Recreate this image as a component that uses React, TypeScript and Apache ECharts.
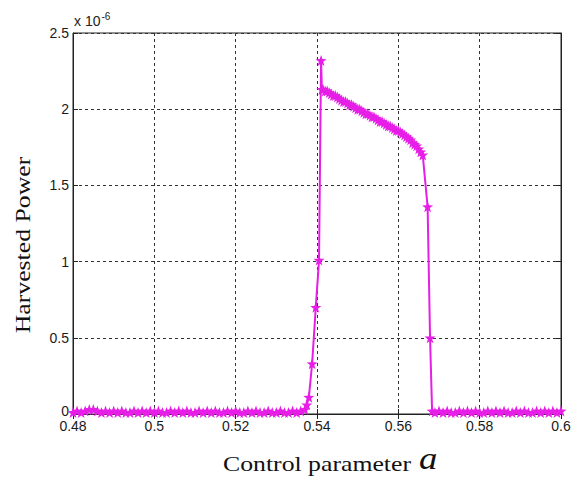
import React, { useEffect, useRef } from "react";
import * as echarts from "echarts";

const xTicks = [0.48, 0.5, 0.52, 0.54, 0.56, 0.58, 0.6];
const yTicks = [0, 0.5, 1, 1.5, 2, 2.5];

// Harvested power (x 10^-6) vs control parameter a
const baseLeft: [number, number][] = [
  [0.48, 0.01], [0.481, 0.02], [0.482, 0.01], [0.483, 0.02], [0.484, 0.03], [0.485, 0.03],
  [0.486, 0.02], [0.487, 0.01], [0.488, 0.02], [0.489, 0.01], [0.49, 0.02], [0.491, 0.01],
  [0.492, 0.02], [0.493, 0.01], [0.494, 0.01], [0.495, 0.02], [0.496, 0.01], [0.497, 0.02],
  [0.498, 0.01], [0.499, 0.02], [0.5, 0.01], [0.501, 0.02], [0.502, 0.01], [0.503, 0.01],
  [0.504, 0.02], [0.505, 0.01], [0.506, 0.02], [0.507, 0.01], [0.508, 0.02], [0.509, 0.01],
  [0.51, 0.01], [0.511, 0.02], [0.512, 0.01], [0.513, 0.02], [0.514, 0.01], [0.515, 0.02],
  [0.516, 0.01], [0.517, 0.01], [0.518, 0.02], [0.519, 0.01], [0.52, 0.02], [0.521, 0.01],
  [0.522, 0.01], [0.523, 0.02], [0.524, 0.01], [0.525, 0.02], [0.526, 0.01], [0.527, 0.01],
  [0.528, 0.02], [0.529, 0.01], [0.53, 0.01], [0.531, 0.02], [0.532, 0.01], [0.533, 0.01],
  [0.534, 0.02], [0.535, 0.01], [0.536, 0.02],
];
const rise: [number, number][] = [
  [0.537, 0.03], [0.5375, 0.06], [0.538, 0.11], [0.5388, 0.33], [0.5397, 0.7],
  [0.5405, 1.01], [0.541, 2.32], [0.5412, 2.13],
];
const plateau: [number, number][] = [
  [0.5415, 2.13], [0.542, 2.12], [0.5425, 2.12], [0.543, 2.11], [0.5435, 2.1], [0.544, 2.09],
  [0.5445, 2.09], [0.545, 2.08], [0.5455, 2.07], [0.546, 2.06], [0.5465, 2.05], [0.547, 2.05],
  [0.5475, 2.04], [0.548, 2.03], [0.5485, 2.03], [0.549, 2.02], [0.5495, 2.01], [0.55, 2.0],
  [0.5505, 2.0], [0.551, 1.99], [0.5515, 1.98], [0.552, 1.97], [0.5525, 1.97], [0.553, 1.96],
  [0.5535, 1.95], [0.554, 1.95], [0.5545, 1.94], [0.555, 1.93], [0.5555, 1.92], [0.556, 1.92],
  [0.5565, 1.91], [0.557, 1.9], [0.5575, 1.89], [0.558, 1.89], [0.5585, 1.88], [0.559, 1.87],
  [0.5595, 1.86], [0.56, 1.86], [0.5605, 1.85], [0.561, 1.84], [0.5615, 1.83], [0.562, 1.82],
  [0.5625, 1.81], [0.563, 1.8], [0.5635, 1.78], [0.564, 1.77], [0.5645, 1.76], [0.565, 1.74],
  [0.5655, 1.72], [0.566, 1.7],
];
const drop: [number, number][] = [
  [0.5672, 1.36], [0.5678, 0.5], [0.5683, 0.02],
];
const baseRight: [number, number][] = [
  [0.569, 0.01], [0.57, 0.02], [0.571, 0.01], [0.572, 0.02], [0.573, 0.01], [0.574, 0.01],
  [0.575, 0.02], [0.576, 0.01], [0.577, 0.02], [0.578, 0.01], [0.579, 0.02], [0.58, 0.01],
  [0.581, 0.01], [0.582, 0.02], [0.583, 0.01], [0.584, 0.02], [0.585, 0.01], [0.586, 0.02],
  [0.587, 0.01], [0.588, 0.01], [0.589, 0.02], [0.59, 0.01], [0.591, 0.02], [0.592, 0.01],
  [0.593, 0.01], [0.594, 0.02], [0.595, 0.01], [0.596, 0.02], [0.597, 0.01], [0.598, 0.02],
  [0.599, 0.01], [0.6, 0.02],
];

const STAR =
  "path://M0,-10 L2.35,-3.24 L9.51,-3.09 L3.8,1.24 L5.88,8.09 L0,4 L-5.88,8.09 L-3.8,1.24 L-9.51,-3.09 L-2.35,-3.24 Z";
const MAGENTA = "#e61ee6";

export default function App() {
  const ref = useRef<HTMLDivElement>(null);
  useEffect(() => {
    if (!ref.current) return;
    const chart = echarts.init(ref.current, null, { renderer: "svg" });
    const data = [...baseLeft, ...rise, ...plateau, ...drop, ...baseRight];
    const fmtX = (v: number) => String(+v.toFixed(2));
    const split = { show: true, lineStyle: { color: "#333", type: [3, 3] as any, width: 1 } };
    const labelStyle = { fontFamily: "Liberation Sans", fontSize: 14, color: "#1a1a1a" };
    chart.setOption({
      animation: false,
      backgroundColor: "#fff",
      grid: { left: 73, top: 33, right: 22, bottom: 63, show: true, borderColor: "#222", borderWidth: 1 },
      xAxis: [
        {
          type: "value", min: xTicks[0], max: xTicks[xTicks.length - 1], interval: 0.02,
          axisLine: { lineStyle: { color: "#222" } },
          axisTick: { inside: true, length: 5, lineStyle: { color: "#222" } },
          axisLabel: { ...labelStyle, margin: 5, formatter: fmtX },
          splitLine: split,
        },
        {
          type: "value", position: "top", min: xTicks[0], max: xTicks[xTicks.length - 1], interval: 0.02,
          axisLine: { show: true, lineStyle: { color: "#222" } },
          axisTick: { show: true, inside: true, length: 5, lineStyle: { color: "#222" } },
          axisLabel: { show: false }, splitLine: { show: false },
        },
      ],
      yAxis: [
        {
          type: "value", min: yTicks[0], max: yTicks[yTicks.length - 1], interval: 0.5,
          axisLine: { show: true, lineStyle: { color: "#222" } },
          axisTick: { show: true, inside: true, length: 5, lineStyle: { color: "#222" } },
          axisLabel: {
            ...labelStyle, margin: 4,
            formatter: (v: number) => (v === 0 ? "{z|0}" : String(v)),
            rich: { z: { ...labelStyle, padding: [0, 0, 7, 0] } },
          },
          splitLine: split,
        },
        {
          type: "value", position: "right", min: yTicks[0], max: yTicks[yTicks.length - 1], interval: 0.5,
          axisLine: { show: true, lineStyle: { color: "#222" } },
          axisTick: { show: true, inside: true, length: 5, lineStyle: { color: "#222" } },
          axisLabel: { show: false }, splitLine: { show: false },
        },
      ],
      graphic: [
        {
          type: "text", left: 74, top: 11,
          style: {
            text: "x 10{s|-6}", fontFamily: "Liberation Sans", fontSize: 14, fill: "#222",
            rich: { s: { fontSize: 10, verticalAlign: "top", padding: [0, 0, 9, 1] } },
          },
        },
        {
          type: "text", x: 23, y: 245, rotation: Math.PI / 2, scaleX: 1.17,
          style: {
            text: "Harvested Power", fontFamily: "Liberation Serif", fontSize: 22, fill: "#111",
            align: "center", verticalAlign: "middle",
          },
        },
        {
          type: "text", x: 317, y: 464, scaleX: 1.17,
          style: {
            text: "Control parameter", fontFamily: "Liberation Serif", fontSize: 22, fill: "#111",
            align: "center", verticalAlign: "middle",
          },
        },
        {
          type: "text", x: 419, y: 458, scaleX: 1.15,
          style: {
            text: "a", fontFamily: "Liberation Serif", fontStyle: "italic", fontSize: 32, fill: "#111",
            align: "left", verticalAlign: "middle",
          },
        },
      ],
      series: [
        {
          type: "line", data, xAxisIndex: 0, yAxisIndex: 0,
          symbol: STAR, symbolSize: 11, showAllSymbol: true,
          lineStyle: { color: MAGENTA, width: 2 },
          itemStyle: { color: MAGENTA },
        },
      ],
    });
    return () => chart.dispose();
  }, []);
  return <div ref={ref} style={{ position: "fixed", left: 0, top: 0, width: 583, height: 477 }} />;
}
